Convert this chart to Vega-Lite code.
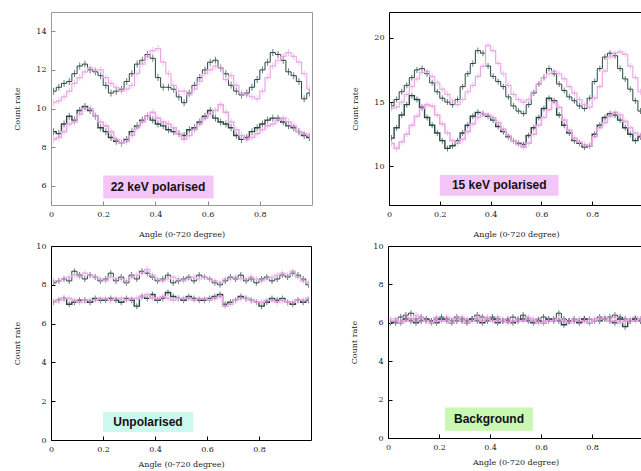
{
"$schema": "https://vega.github.io/schema/vega-lite/v6.json",
"background": "white",
"padding": {"left": 13, "top": 11, "right": 0, "bottom": 0},
"config": {
 "view": {"stroke": "#000", "strokeWidth": 1},
 "axis": {"labelFont": "DejaVu Serif", "labelFontSize": 8, "labelColor": "#222", "titleFont": "DejaVu Serif", "titleFontSize": 8, "titleFontWeight": "normal", "titleColor": "#222", "grid": false, "domain": false, "tickSize": -4, "tickColor": "#000", "labelPadding": 9, "labelOverlap": false, "labelFlush": false, "labelBound": false, "labelSeparation": 0},
 "axisY": {"titlePadding": 14},
 "axisX": {"titlePadding": 12}
},
"datasets": {
"p1": [
{"s":"d1","x":0.01,"y":10.9},{"s":"d1","x":0.03,"y":11.1},{"s":"d1","x":0.05,"y":11.3},{"s":"d1","x":0.07,"y":11.4},{"s":"d1","x":0.09,"y":11.8},{"s":"d1","x":0.11,"y":12.2},{"s":"d1","x":0.13,"y":12.3},{"s":"d1","x":0.15,"y":12.0},{"s":"d1","x":0.17,"y":11.9},{"s":"d1","x":0.19,"y":11.7},
{"s":"d1","x":0.21,"y":11.2},{"s":"d1","x":0.23,"y":10.8},{"s":"d1","x":0.25,"y":10.9},{"s":"d1","x":0.27,"y":11.0},{"s":"d1","x":0.29,"y":11.4},{"s":"d1","x":0.31,"y":11.8},{"s":"d1","x":0.33,"y":12.3},{"s":"d1","x":0.35,"y":12.5},{"s":"d1","x":0.37,"y":12.8},{"s":"d1","x":0.39,"y":12.6},
{"s":"d1","x":0.41,"y":11.6},{"s":"d1","x":0.43,"y":11.1},{"s":"d1","x":0.45,"y":11.1},{"s":"d1","x":0.47,"y":11.0},{"s":"d1","x":0.49,"y":10.6},{"s":"d1","x":0.51,"y":10.3},{"s":"d1","x":0.53,"y":10.8},{"s":"d1","x":0.55,"y":11.2},{"s":"d1","x":0.57,"y":11.6},{"s":"d1","x":0.59,"y":12.0},
{"s":"d1","x":0.61,"y":12.4},{"s":"d1","x":0.63,"y":12.5},{"s":"d1","x":0.65,"y":12.1},{"s":"d1","x":0.67,"y":11.8},{"s":"d1","x":0.69,"y":11.2},{"s":"d1","x":0.71,"y":10.9},{"s":"d1","x":0.73,"y":10.7},{"s":"d1","x":0.75,"y":10.8},{"s":"d1","x":0.77,"y":11.1},{"s":"d1","x":0.79,"y":11.5},
{"s":"d1","x":0.81,"y":12.0},{"s":"d1","x":0.83,"y":12.4},{"s":"d1","x":0.85,"y":12.9},{"s":"d1","x":0.87,"y":12.8},{"s":"d1","x":0.89,"y":12.5},{"s":"d1","x":0.91,"y":11.9},{"s":"d1","x":0.93,"y":11.7},{"s":"d1","x":0.95,"y":11.4},{"s":"d1","x":0.97,"y":10.5},{"s":"d1","x":0.99,"y":10.8},
{"s":"m1","x":0.01,"y":10.3},{"s":"m1","x":0.03,"y":10.4},{"s":"m1","x":0.05,"y":10.6},{"s":"m1","x":0.07,"y":10.9},{"s":"m1","x":0.09,"y":11.3},{"s":"m1","x":0.11,"y":11.6},{"s":"m1","x":0.13,"y":11.9},{"s":"m1","x":0.15,"y":12.1},{"s":"m1","x":0.17,"y":12.0},{"s":"m1","x":0.19,"y":12.0},
{"s":"m1","x":0.21,"y":11.6},{"s":"m1","x":0.23,"y":11.3},{"s":"m1","x":0.25,"y":11.1},{"s":"m1","x":0.27,"y":10.9},{"s":"m1","x":0.29,"y":11.0},{"s":"m1","x":0.31,"y":11.2},{"s":"m1","x":0.33,"y":11.8},{"s":"m1","x":0.35,"y":12.3},{"s":"m1","x":0.37,"y":12.7},{"s":"m1","x":0.39,"y":13.0},
{"s":"m1","x":0.41,"y":13.1},{"s":"m1","x":0.43,"y":12.4},{"s":"m1","x":0.45,"y":11.8},{"s":"m1","x":0.47,"y":11.2},{"s":"m1","x":0.49,"y":10.9},{"s":"m1","x":0.51,"y":10.9},{"s":"m1","x":0.53,"y":10.7},{"s":"m1","x":0.55,"y":11.0},{"s":"m1","x":0.57,"y":11.4},{"s":"m1","x":0.59,"y":11.8},
{"s":"m1","x":0.61,"y":12.0},{"s":"m1","x":0.63,"y":12.2},{"s":"m1","x":0.65,"y":12.1},{"s":"m1","x":0.67,"y":11.5},{"s":"m1","x":0.69,"y":11.7},{"s":"m1","x":0.71,"y":11.2},{"s":"m1","x":0.73,"y":10.8},{"s":"m1","x":0.75,"y":10.7},{"s":"m1","x":0.77,"y":10.6},{"s":"m1","x":0.79,"y":10.5},
{"s":"m1","x":0.81,"y":10.9},{"s":"m1","x":0.83,"y":11.6},{"s":"m1","x":0.85,"y":12.2},{"s":"m1","x":0.87,"y":12.5},{"s":"m1","x":0.89,"y":12.7},{"s":"m1","x":0.91,"y":12.9},{"s":"m1","x":0.93,"y":12.7},{"s":"m1","x":0.95,"y":12.4},{"s":"m1","x":0.97,"y":11.8},{"s":"m1","x":0.99,"y":11.0},
{"s":"d2","x":0.01,"y":8.8},{"s":"d2","x":0.03,"y":8.7},{"s":"d2","x":0.05,"y":9.2},{"s":"d2","x":0.07,"y":9.6},{"s":"d2","x":0.09,"y":9.4},{"s":"d2","x":0.11,"y":9.9},{"s":"d2","x":0.13,"y":10.1},{"s":"d2","x":0.15,"y":9.9},{"s":"d2","x":0.17,"y":9.6},{"s":"d2","x":0.19,"y":9.0},
{"s":"d2","x":0.21,"y":8.8},{"s":"d2","x":0.23,"y":8.5},{"s":"d2","x":0.25,"y":8.3},{"s":"d2","x":0.27,"y":8.2},{"s":"d2","x":0.29,"y":8.4},{"s":"d2","x":0.31,"y":8.8},{"s":"d2","x":0.33,"y":9.1},{"s":"d2","x":0.35,"y":9.4},{"s":"d2","x":0.37,"y":9.6},{"s":"d2","x":0.39,"y":9.4},
{"s":"d2","x":0.41,"y":9.2},{"s":"d2","x":0.43,"y":9.1},{"s":"d2","x":0.45,"y":8.9},{"s":"d2","x":0.47,"y":8.8},{"s":"d2","x":0.49,"y":8.7},{"s":"d2","x":0.51,"y":8.6},{"s":"d2","x":0.53,"y":8.9},{"s":"d2","x":0.55,"y":9.0},{"s":"d2","x":0.57,"y":9.3},{"s":"d2","x":0.59,"y":9.6},
{"s":"d2","x":0.61,"y":9.9},{"s":"d2","x":0.63,"y":9.5},{"s":"d2","x":0.65,"y":9.3},{"s":"d2","x":0.67,"y":9.2},{"s":"d2","x":0.69,"y":9.0},{"s":"d2","x":0.71,"y":8.6},{"s":"d2","x":0.73,"y":8.4},{"s":"d2","x":0.75,"y":8.5},{"s":"d2","x":0.77,"y":8.8},{"s":"d2","x":0.79,"y":9.0},
{"s":"d2","x":0.81,"y":9.2},{"s":"d2","x":0.83,"y":9.4},{"s":"d2","x":0.85,"y":9.5},{"s":"d2","x":0.87,"y":9.5},{"s":"d2","x":0.89,"y":9.3},{"s":"d2","x":0.91,"y":9.1},{"s":"d2","x":0.93,"y":9.0},{"s":"d2","x":0.95,"y":8.8},{"s":"d2","x":0.97,"y":8.6},{"s":"d2","x":0.99,"y":8.5},
{"s":"m2","x":0.01,"y":8.4},{"s":"m2","x":0.03,"y":8.5},{"s":"m2","x":0.05,"y":8.8},{"s":"m2","x":0.07,"y":9.2},{"s":"m2","x":0.09,"y":9.3},{"s":"m2","x":0.11,"y":9.7},{"s":"m2","x":0.13,"y":10.0},{"s":"m2","x":0.15,"y":10.0},{"s":"m2","x":0.17,"y":9.6},{"s":"m2","x":0.19,"y":9.3},
{"s":"m2","x":0.21,"y":9.1},{"s":"m2","x":0.23,"y":8.8},{"s":"m2","x":0.25,"y":8.4},{"s":"m2","x":0.27,"y":8.2},{"s":"m2","x":0.29,"y":8.3},{"s":"m2","x":0.31,"y":8.6},{"s":"m2","x":0.33,"y":9.0},{"s":"m2","x":0.35,"y":9.3},{"s":"m2","x":0.37,"y":9.6},{"s":"m2","x":0.39,"y":9.8},
{"s":"m2","x":0.41,"y":9.5},{"s":"m2","x":0.43,"y":9.3},{"s":"m2","x":0.45,"y":9.2},{"s":"m2","x":0.47,"y":9.0},{"s":"m2","x":0.49,"y":8.7},{"s":"m2","x":0.51,"y":8.4},{"s":"m2","x":0.53,"y":8.6},{"s":"m2","x":0.55,"y":8.9},{"s":"m2","x":0.57,"y":9.2},{"s":"m2","x":0.59,"y":9.5},
{"s":"m2","x":0.61,"y":9.7},{"s":"m2","x":0.63,"y":9.9},{"s":"m2","x":0.65,"y":10.2},{"s":"m2","x":0.67,"y":9.8},{"s":"m2","x":0.69,"y":9.3},{"s":"m2","x":0.71,"y":8.9},{"s":"m2","x":0.73,"y":8.6},{"s":"m2","x":0.75,"y":8.4},{"s":"m2","x":0.77,"y":8.5},{"s":"m2","x":0.79,"y":8.7},
{"s":"m2","x":0.81,"y":8.9},{"s":"m2","x":0.83,"y":9.1},{"s":"m2","x":0.85,"y":9.2},{"s":"m2","x":0.87,"y":9.4},{"s":"m2","x":0.89,"y":9.5},{"s":"m2","x":0.91,"y":9.3},{"s":"m2","x":0.93,"y":9.1},{"s":"m2","x":0.95,"y":8.8},{"s":"m2","x":0.97,"y":8.7},{"s":"m2","x":0.99,"y":8.6}
],
"p2": [
{"s":"d1","x":0.01,"y":14.7},{"s":"d1","x":0.03,"y":15.2},{"s":"d1","x":0.05,"y":15.8},{"s":"d1","x":0.07,"y":16.3},{"s":"d1","x":0.09,"y":16.9},{"s":"d1","x":0.11,"y":17.5},{"s":"d1","x":0.13,"y":17.6},{"s":"d1","x":0.15,"y":17.2},{"s":"d1","x":0.17,"y":16.5},{"s":"d1","x":0.19,"y":15.8},
{"s":"d1","x":0.21,"y":15.3},{"s":"d1","x":0.23,"y":15.0},{"s":"d1","x":0.25,"y":14.8},{"s":"d1","x":0.27,"y":15.2},{"s":"d1","x":0.29,"y":16.2},{"s":"d1","x":0.31,"y":17.2},{"s":"d1","x":0.33,"y":18.0},{"s":"d1","x":0.35,"y":19.0},{"s":"d1","x":0.37,"y":18.8},{"s":"d1","x":0.39,"y":17.8},
{"s":"d1","x":0.41,"y":17.0},{"s":"d1","x":0.43,"y":16.6},{"s":"d1","x":0.45,"y":16.2},{"s":"d1","x":0.47,"y":15.4},{"s":"d1","x":0.49,"y":14.7},{"s":"d1","x":0.51,"y":14.3},{"s":"d1","x":0.53,"y":14.1},{"s":"d1","x":0.55,"y":14.8},{"s":"d1","x":0.57,"y":15.7},{"s":"d1","x":0.59,"y":16.4},
{"s":"d1","x":0.61,"y":16.9},{"s":"d1","x":0.63,"y":17.6},{"s":"d1","x":0.65,"y":17.2},{"s":"d1","x":0.67,"y":16.4},{"s":"d1","x":0.69,"y":15.9},{"s":"d1","x":0.71,"y":15.4},{"s":"d1","x":0.73,"y":15.1},{"s":"d1","x":0.75,"y":14.7},{"s":"d1","x":0.77,"y":14.5},{"s":"d1","x":0.79,"y":15.3},
{"s":"d1","x":0.81,"y":16.6},{"s":"d1","x":0.83,"y":17.6},{"s":"d1","x":0.85,"y":18.5},{"s":"d1","x":0.87,"y":18.8},{"s":"d1","x":0.89,"y":18.6},{"s":"d1","x":0.91,"y":17.6},{"s":"d1","x":0.93,"y":16.8},{"s":"d1","x":0.95,"y":16.0},{"s":"d1","x":0.97,"y":15.1},{"s":"d1","x":0.99,"y":14.3},
{"s":"m1","x":0.01,"y":14.5},{"s":"m1","x":0.03,"y":14.6},{"s":"m1","x":0.05,"y":15.0},{"s":"m1","x":0.07,"y":15.6},{"s":"m1","x":0.09,"y":16.2},{"s":"m1","x":0.11,"y":16.8},{"s":"m1","x":0.13,"y":17.3},{"s":"m1","x":0.15,"y":17.4},{"s":"m1","x":0.17,"y":17.0},{"s":"m1","x":0.19,"y":16.5},
{"s":"m1","x":0.21,"y":16.0},{"s":"m1","x":0.23,"y":15.6},{"s":"m1","x":0.25,"y":15.1},{"s":"m1","x":0.27,"y":14.8},{"s":"m1","x":0.29,"y":15.2},{"s":"m1","x":0.31,"y":15.8},{"s":"m1","x":0.33,"y":16.3},{"s":"m1","x":0.35,"y":17.0},{"s":"m1","x":0.37,"y":17.8},{"s":"m1","x":0.39,"y":19.4},
{"s":"m1","x":0.41,"y":19.0},{"s":"m1","x":0.43,"y":18.0},{"s":"m1","x":0.45,"y":17.2},{"s":"m1","x":0.47,"y":16.3},{"s":"m1","x":0.49,"y":15.6},{"s":"m1","x":0.51,"y":15.2},{"s":"m1","x":0.53,"y":15.0},{"s":"m1","x":0.55,"y":15.2},{"s":"m1","x":0.57,"y":15.8},{"s":"m1","x":0.59,"y":16.4},
{"s":"m1","x":0.61,"y":16.9},{"s":"m1","x":0.63,"y":17.2},{"s":"m1","x":0.65,"y":17.4},{"s":"m1","x":0.67,"y":17.2},{"s":"m1","x":0.69,"y":16.8},{"s":"m1","x":0.71,"y":16.2},{"s":"m1","x":0.73,"y":15.7},{"s":"m1","x":0.75,"y":15.2},{"s":"m1","x":0.77,"y":14.8},{"s":"m1","x":0.79,"y":14.6},
{"s":"m1","x":0.81,"y":15.3},{"s":"m1","x":0.83,"y":16.2},{"s":"m1","x":0.85,"y":17.4},{"s":"m1","x":0.87,"y":18.5},{"s":"m1","x":0.89,"y":18.8},{"s":"m1","x":0.91,"y":18.9},{"s":"m1","x":0.93,"y":18.7},{"s":"m1","x":0.95,"y":17.8},{"s":"m1","x":0.97,"y":16.9},{"s":"m1","x":0.99,"y":15.8},
{"s":"d2","x":0.01,"y":12.2},{"s":"d2","x":0.03,"y":13.0},{"s":"d2","x":0.05,"y":14.0},{"s":"d2","x":0.07,"y":14.8},{"s":"d2","x":0.09,"y":15.5},{"s":"d2","x":0.11,"y":15.2},{"s":"d2","x":0.13,"y":14.6},{"s":"d2","x":0.15,"y":13.8},{"s":"d2","x":0.17,"y":13.2},{"s":"d2","x":0.19,"y":12.6},
{"s":"d2","x":0.21,"y":12.0},{"s":"d2","x":0.23,"y":11.4},{"s":"d2","x":0.25,"y":11.6},{"s":"d2","x":0.27,"y":12.0},{"s":"d2","x":0.29,"y":12.6},{"s":"d2","x":0.31,"y":13.2},{"s":"d2","x":0.33,"y":13.9},{"s":"d2","x":0.35,"y":14.2},{"s":"d2","x":0.37,"y":14.1},{"s":"d2","x":0.39,"y":13.9},
{"s":"d2","x":0.41,"y":13.6},{"s":"d2","x":0.43,"y":13.1},{"s":"d2","x":0.45,"y":12.7},{"s":"d2","x":0.47,"y":12.3},{"s":"d2","x":0.49,"y":12.0},{"s":"d2","x":0.51,"y":11.8},{"s":"d2","x":0.53,"y":11.7},{"s":"d2","x":0.55,"y":12.4},{"s":"d2","x":0.57,"y":13.0},{"s":"d2","x":0.59,"y":13.8},
{"s":"d2","x":0.61,"y":14.5},{"s":"d2","x":0.63,"y":15.3},{"s":"d2","x":0.65,"y":15.1},{"s":"d2","x":0.67,"y":14.0},{"s":"d2","x":0.69,"y":13.2},{"s":"d2","x":0.71,"y":12.6},{"s":"d2","x":0.73,"y":12.0},{"s":"d2","x":0.75,"y":11.8},{"s":"d2","x":0.77,"y":11.5},{"s":"d2","x":0.79,"y":11.6},
{"s":"d2","x":0.81,"y":12.5},{"s":"d2","x":0.83,"y":13.2},{"s":"d2","x":0.85,"y":13.8},{"s":"d2","x":0.87,"y":14.1},{"s":"d2","x":0.89,"y":14.0},{"s":"d2","x":0.91,"y":13.6},{"s":"d2","x":0.93,"y":13.0},{"s":"d2","x":0.95,"y":12.5},{"s":"d2","x":0.97,"y":12.0},{"s":"d2","x":0.99,"y":12.3},
{"s":"m2","x":0.01,"y":11.8},{"s":"m2","x":0.03,"y":11.4},{"s":"m2","x":0.05,"y":11.9},{"s":"m2","x":0.07,"y":12.5},{"s":"m2","x":0.09,"y":13.2},{"s":"m2","x":0.11,"y":13.9},{"s":"m2","x":0.13,"y":14.5},{"s":"m2","x":0.15,"y":14.8},{"s":"m2","x":0.17,"y":14.7},{"s":"m2","x":0.19,"y":14.0},
{"s":"m2","x":0.21,"y":13.3},{"s":"m2","x":0.23,"y":12.6},{"s":"m2","x":0.25,"y":12.0},{"s":"m2","x":0.27,"y":11.8},{"s":"m2","x":0.29,"y":12.1},{"s":"m2","x":0.31,"y":12.7},{"s":"m2","x":0.33,"y":13.3},{"s":"m2","x":0.35,"y":13.8},{"s":"m2","x":0.37,"y":14.1},{"s":"m2","x":0.39,"y":14.0},
{"s":"m2","x":0.41,"y":13.8},{"s":"m2","x":0.43,"y":13.4},{"s":"m2","x":0.45,"y":12.9},{"s":"m2","x":0.47,"y":12.4},{"s":"m2","x":0.49,"y":12.0},{"s":"m2","x":0.51,"y":11.7},{"s":"m2","x":0.53,"y":11.5},{"s":"m2","x":0.55,"y":11.8},{"s":"m2","x":0.57,"y":12.5},{"s":"m2","x":0.59,"y":13.2},
{"s":"m2","x":0.61,"y":13.8},{"s":"m2","x":0.63,"y":14.4},{"s":"m2","x":0.65,"y":15.0},{"s":"m2","x":0.67,"y":14.6},{"s":"m2","x":0.69,"y":13.6},{"s":"m2","x":0.71,"y":12.8},{"s":"m2","x":0.73,"y":12.2},{"s":"m2","x":0.75,"y":11.9},{"s":"m2","x":0.77,"y":11.7},{"s":"m2","x":0.79,"y":11.6},
{"s":"m2","x":0.81,"y":12.3},{"s":"m2","x":0.83,"y":13.0},{"s":"m2","x":0.85,"y":13.4},{"s":"m2","x":0.87,"y":13.9},{"s":"m2","x":0.89,"y":14.2},{"s":"m2","x":0.91,"y":14.0},{"s":"m2","x":0.93,"y":13.5},{"s":"m2","x":0.95,"y":13.0},{"s":"m2","x":0.97,"y":12.6},{"s":"m2","x":0.99,"y":12.4}
],
"p3": [
{"s":"d1","x":0.01,"y":8.1},{"s":"d1","x":0.03,"y":8.2},{"s":"d1","x":0.05,"y":8.3},{"s":"d1","x":0.07,"y":8.2},{"s":"d1","x":0.09,"y":8.7},{"s":"d1","x":0.11,"y":8.5},{"s":"d1","x":0.13,"y":8.3},{"s":"d1","x":0.15,"y":8.5},{"s":"d1","x":0.17,"y":8.4},{"s":"d1","x":0.19,"y":8.2},
{"s":"d1","x":0.21,"y":8.3},{"s":"d1","x":0.23,"y":8.6},{"s":"d1","x":0.25,"y":8.2},{"s":"d1","x":0.27,"y":8.4},{"s":"d1","x":0.29,"y":8.1},{"s":"d1","x":0.31,"y":8.5},{"s":"d1","x":0.33,"y":8.3},{"s":"d1","x":0.35,"y":8.7},{"s":"d1","x":0.37,"y":8.6},{"s":"d1","x":0.39,"y":8.4},
{"s":"d1","x":0.41,"y":8.2},{"s":"d1","x":0.43,"y":8.3},{"s":"d1","x":0.45,"y":8.5},{"s":"d1","x":0.47,"y":8.1},{"s":"d1","x":0.49,"y":8.2},{"s":"d1","x":0.51,"y":8.3},{"s":"d1","x":0.53,"y":8.4},{"s":"d1","x":0.55,"y":8.2},{"s":"d1","x":0.57,"y":8.5},{"s":"d1","x":0.59,"y":8.4},
{"s":"d1","x":0.61,"y":8.3},{"s":"d1","x":0.63,"y":8.1},{"s":"d1","x":0.65,"y":8.0},{"s":"d1","x":0.67,"y":8.2},{"s":"d1","x":0.69,"y":8.4},{"s":"d1","x":0.71,"y":8.3},{"s":"d1","x":0.73,"y":8.5},{"s":"d1","x":0.75,"y":8.2},{"s":"d1","x":0.77,"y":8.3},{"s":"d1","x":0.79,"y":8.1},
{"s":"d1","x":0.81,"y":8.3},{"s":"d1","x":0.83,"y":8.4},{"s":"d1","x":0.85,"y":8.2},{"s":"d1","x":0.87,"y":8.3},{"s":"d1","x":0.89,"y":8.5},{"s":"d1","x":0.91,"y":8.4},{"s":"d1","x":0.93,"y":8.6},{"s":"d1","x":0.95,"y":8.5},{"s":"d1","x":0.97,"y":8.3},{"s":"d1","x":0.99,"y":8.0},
{"s":"m1","x":0.01,"y":8.2},{"s":"m1","x":0.03,"y":8.2},{"s":"m1","x":0.05,"y":8.3},{"s":"m1","x":0.07,"y":8.4},{"s":"m1","x":0.09,"y":8.5},{"s":"m1","x":0.11,"y":8.4},{"s":"m1","x":0.13,"y":8.6},{"s":"m1","x":0.15,"y":8.5},{"s":"m1","x":0.17,"y":8.4},{"s":"m1","x":0.19,"y":8.3},
{"s":"m1","x":0.21,"y":8.2},{"s":"m1","x":0.23,"y":8.4},{"s":"m1","x":0.25,"y":8.3},{"s":"m1","x":0.27,"y":8.3},{"s":"m1","x":0.29,"y":8.2},{"s":"m1","x":0.31,"y":8.4},{"s":"m1","x":0.33,"y":8.5},{"s":"m1","x":0.35,"y":8.6},{"s":"m1","x":0.37,"y":8.8},{"s":"m1","x":0.39,"y":8.5},
{"s":"m1","x":0.41,"y":8.3},{"s":"m1","x":0.43,"y":8.2},{"s":"m1","x":0.45,"y":8.3},{"s":"m1","x":0.47,"y":8.4},{"s":"m1","x":0.49,"y":8.3},{"s":"m1","x":0.51,"y":8.2},{"s":"m1","x":0.53,"y":8.3},{"s":"m1","x":0.55,"y":8.4},{"s":"m1","x":0.57,"y":8.3},{"s":"m1","x":0.59,"y":8.4},
{"s":"m1","x":0.61,"y":8.3},{"s":"m1","x":0.63,"y":8.2},{"s":"m1","x":0.65,"y":8.1},{"s":"m1","x":0.67,"y":8.3},{"s":"m1","x":0.69,"y":8.3},{"s":"m1","x":0.71,"y":8.4},{"s":"m1","x":0.73,"y":8.3},{"s":"m1","x":0.75,"y":8.3},{"s":"m1","x":0.77,"y":8.4},{"s":"m1","x":0.79,"y":8.3},
{"s":"m1","x":0.81,"y":8.2},{"s":"m1","x":0.83,"y":8.3},{"s":"m1","x":0.85,"y":8.4},{"s":"m1","x":0.87,"y":8.5},{"s":"m1","x":0.89,"y":8.6},{"s":"m1","x":0.91,"y":8.5},{"s":"m1","x":0.93,"y":8.7},{"s":"m1","x":0.95,"y":8.4},{"s":"m1","x":0.97,"y":8.2},{"s":"m1","x":0.99,"y":8.1},
{"s":"d2","x":0.01,"y":7.1},{"s":"d2","x":0.03,"y":7.2},{"s":"d2","x":0.05,"y":7.3},{"s":"d2","x":0.07,"y":7.0},{"s":"d2","x":0.09,"y":7.1},{"s":"d2","x":0.11,"y":7.2},{"s":"d2","x":0.13,"y":7.2},{"s":"d2","x":0.15,"y":7.1},{"s":"d2","x":0.17,"y":7.3},{"s":"d2","x":0.19,"y":7.2},
{"s":"d2","x":0.21,"y":7.2},{"s":"d2","x":0.23,"y":7.3},{"s":"d2","x":0.25,"y":7.2},{"s":"d2","x":0.27,"y":7.1},{"s":"d2","x":0.29,"y":7.3},{"s":"d2","x":0.31,"y":7.2},{"s":"d2","x":0.33,"y":6.9},{"s":"d2","x":0.35,"y":7.4},{"s":"d2","x":0.37,"y":7.3},{"s":"d2","x":0.39,"y":7.5},
{"s":"d2","x":0.41,"y":7.2},{"s":"d2","x":0.43,"y":7.3},{"s":"d2","x":0.45,"y":7.6},{"s":"d2","x":0.47,"y":7.4},{"s":"d2","x":0.49,"y":7.3},{"s":"d2","x":0.51,"y":7.2},{"s":"d2","x":0.53,"y":7.4},{"s":"d2","x":0.55,"y":7.3},{"s":"d2","x":0.57,"y":7.2},{"s":"d2","x":0.59,"y":7.2},
{"s":"d2","x":0.61,"y":7.3},{"s":"d2","x":0.63,"y":7.4},{"s":"d2","x":0.65,"y":7.5},{"s":"d2","x":0.67,"y":7.0},{"s":"d2","x":0.69,"y":7.1},{"s":"d2","x":0.71,"y":7.2},{"s":"d2","x":0.73,"y":7.4},{"s":"d2","x":0.75,"y":7.3},{"s":"d2","x":0.77,"y":7.2},{"s":"d2","x":0.79,"y":7.1},
{"s":"d2","x":0.81,"y":6.9},{"s":"d2","x":0.83,"y":7.1},{"s":"d2","x":0.85,"y":7.3},{"s":"d2","x":0.87,"y":7.2},{"s":"d2","x":0.89,"y":7.3},{"s":"d2","x":0.91,"y":7.1},{"s":"d2","x":0.93,"y":7.0},{"s":"d2","x":0.95,"y":7.2},{"s":"d2","x":0.97,"y":7.1},{"s":"d2","x":0.99,"y":7.2},
{"s":"m2","x":0.01,"y":7.1},{"s":"m2","x":0.03,"y":7.2},{"s":"m2","x":0.05,"y":7.3},{"s":"m2","x":0.07,"y":7.3},{"s":"m2","x":0.09,"y":7.2},{"s":"m2","x":0.11,"y":7.1},{"s":"m2","x":0.13,"y":7.2},{"s":"m2","x":0.15,"y":7.2},{"s":"m2","x":0.17,"y":7.2},{"s":"m2","x":0.19,"y":7.3},
{"s":"m2","x":0.21,"y":7.3},{"s":"m2","x":0.23,"y":7.2},{"s":"m2","x":0.25,"y":7.3},{"s":"m2","x":0.27,"y":7.3},{"s":"m2","x":0.29,"y":7.2},{"s":"m2","x":0.31,"y":7.3},{"s":"m2","x":0.33,"y":7.3},{"s":"m2","x":0.35,"y":7.4},{"s":"m2","x":0.37,"y":7.5},{"s":"m2","x":0.39,"y":7.3},
{"s":"m2","x":0.41,"y":7.3},{"s":"m2","x":0.43,"y":7.4},{"s":"m2","x":0.45,"y":7.3},{"s":"m2","x":0.47,"y":7.2},{"s":"m2","x":0.49,"y":7.3},{"s":"m2","x":0.51,"y":7.3},{"s":"m2","x":0.53,"y":7.3},{"s":"m2","x":0.55,"y":7.2},{"s":"m2","x":0.57,"y":7.3},{"s":"m2","x":0.59,"y":7.3},
{"s":"m2","x":0.61,"y":7.2},{"s":"m2","x":0.63,"y":7.3},{"s":"m2","x":0.65,"y":7.4},{"s":"m2","x":0.67,"y":6.9},{"s":"m2","x":0.69,"y":7.0},{"s":"m2","x":0.71,"y":7.2},{"s":"m2","x":0.73,"y":7.3},{"s":"m2","x":0.75,"y":7.3},{"s":"m2","x":0.77,"y":7.2},{"s":"m2","x":0.79,"y":7.1},
{"s":"m2","x":0.81,"y":7.1},{"s":"m2","x":0.83,"y":7.2},{"s":"m2","x":0.85,"y":7.2},{"s":"m2","x":0.87,"y":7.1},{"s":"m2","x":0.89,"y":7.2},{"s":"m2","x":0.91,"y":7.1},{"s":"m2","x":0.93,"y":7.1},{"s":"m2","x":0.95,"y":7.2},{"s":"m2","x":0.97,"y":7.2},{"s":"m2","x":0.99,"y":7.3}
],
"p4": [
{"s":"d1","x":0.01,"y":6.1},{"s":"d1","x":0.03,"y":6.0},{"s":"d1","x":0.05,"y":6.3},{"s":"d1","x":0.07,"y":6.4},{"s":"d1","x":0.09,"y":6.5},{"s":"d1","x":0.11,"y":6.2},{"s":"d1","x":0.13,"y":6.3},{"s":"d1","x":0.15,"y":6.1},{"s":"d1","x":0.17,"y":6.0},{"s":"d1","x":0.19,"y":6.2},
{"s":"d1","x":0.21,"y":6.3},{"s":"d1","x":0.23,"y":6.2},{"s":"d1","x":0.25,"y":6.1},{"s":"d1","x":0.27,"y":6.3},{"s":"d1","x":0.29,"y":6.2},{"s":"d1","x":0.31,"y":6.1},{"s":"d1","x":0.33,"y":6.2},{"s":"d1","x":0.35,"y":6.4},{"s":"d1","x":0.37,"y":6.3},{"s":"d1","x":0.39,"y":6.2},
{"s":"d1","x":0.41,"y":6.3},{"s":"d1","x":0.43,"y":6.2},{"s":"d1","x":0.45,"y":6.1},{"s":"d1","x":0.47,"y":6.2},{"s":"d1","x":0.49,"y":6.3},{"s":"d1","x":0.51,"y":6.2},{"s":"d1","x":0.53,"y":6.4},{"s":"d1","x":0.55,"y":6.2},{"s":"d1","x":0.57,"y":6.1},{"s":"d1","x":0.59,"y":6.2},
{"s":"d1","x":0.61,"y":6.3},{"s":"d1","x":0.63,"y":6.1},{"s":"d1","x":0.65,"y":6.2},{"s":"d1","x":0.67,"y":6.5},{"s":"d1","x":0.69,"y":6.2},{"s":"d1","x":0.71,"y":6.1},{"s":"d1","x":0.73,"y":6.2},{"s":"d1","x":0.75,"y":6.1},{"s":"d1","x":0.77,"y":6.2},{"s":"d1","x":0.79,"y":6.2},
{"s":"d1","x":0.81,"y":6.1},{"s":"d1","x":0.83,"y":6.3},{"s":"d1","x":0.85,"y":6.2},{"s":"d1","x":0.87,"y":6.3},{"s":"d1","x":0.89,"y":6.4},{"s":"d1","x":0.91,"y":6.3},{"s":"d1","x":0.93,"y":6.2},{"s":"d1","x":0.95,"y":6.1},{"s":"d1","x":0.97,"y":6.2},{"s":"d1","x":0.99,"y":6.2},
{"s":"m1","x":0.01,"y":6.2},{"s":"m1","x":0.03,"y":6.2},{"s":"m1","x":0.05,"y":6.1},{"s":"m1","x":0.07,"y":6.3},{"s":"m1","x":0.09,"y":6.2},{"s":"m1","x":0.11,"y":6.4},{"s":"m1","x":0.13,"y":6.3},{"s":"m1","x":0.15,"y":6.2},{"s":"m1","x":0.17,"y":6.1},{"s":"m1","x":0.19,"y":6.3},
{"s":"m1","x":0.21,"y":6.2},{"s":"m1","x":0.23,"y":6.3},{"s":"m1","x":0.25,"y":6.2},{"s":"m1","x":0.27,"y":6.2},{"s":"m1","x":0.29,"y":6.3},{"s":"m1","x":0.31,"y":6.2},{"s":"m1","x":0.33,"y":6.2},{"s":"m1","x":0.35,"y":6.3},{"s":"m1","x":0.37,"y":6.2},{"s":"m1","x":0.39,"y":6.3},
{"s":"m1","x":0.41,"y":6.2},{"s":"m1","x":0.43,"y":6.3},{"s":"m1","x":0.45,"y":6.2},{"s":"m1","x":0.47,"y":6.2},{"s":"m1","x":0.49,"y":6.1},{"s":"m1","x":0.51,"y":6.2},{"s":"m1","x":0.53,"y":6.2},{"s":"m1","x":0.55,"y":6.3},{"s":"m1","x":0.57,"y":6.2},{"s":"m1","x":0.59,"y":6.2},
{"s":"m1","x":0.61,"y":6.1},{"s":"m1","x":0.63,"y":6.2},{"s":"m1","x":0.65,"y":6.1},{"s":"m1","x":0.67,"y":6.2},{"s":"m1","x":0.69,"y":6.1},{"s":"m1","x":0.71,"y":6.1},{"s":"m1","x":0.73,"y":6.2},{"s":"m1","x":0.75,"y":6.2},{"s":"m1","x":0.77,"y":6.1},{"s":"m1","x":0.79,"y":6.2},
{"s":"m1","x":0.81,"y":6.2},{"s":"m1","x":0.83,"y":6.2},{"s":"m1","x":0.85,"y":6.3},{"s":"m1","x":0.87,"y":6.2},{"s":"m1","x":0.89,"y":6.3},{"s":"m1","x":0.91,"y":6.2},{"s":"m1","x":0.93,"y":6.1},{"s":"m1","x":0.95,"y":6.2},{"s":"m1","x":0.97,"y":6.3},{"s":"m1","x":0.99,"y":6.2},
{"s":"d2","x":0.01,"y":6.0},{"s":"d2","x":0.03,"y":6.1},{"s":"d2","x":0.05,"y":6.0},{"s":"d2","x":0.07,"y":6.2},{"s":"d2","x":0.09,"y":6.1},{"s":"d2","x":0.11,"y":6.0},{"s":"d2","x":0.13,"y":6.1},{"s":"d2","x":0.15,"y":6.2},{"s":"d2","x":0.17,"y":6.1},{"s":"d2","x":0.19,"y":6.0},
{"s":"d2","x":0.21,"y":6.2},{"s":"d2","x":0.23,"y":6.1},{"s":"d2","x":0.25,"y":6.0},{"s":"d2","x":0.27,"y":6.1},{"s":"d2","x":0.29,"y":6.1},{"s":"d2","x":0.31,"y":6.0},{"s":"d2","x":0.33,"y":6.2},{"s":"d2","x":0.35,"y":6.1},{"s":"d2","x":0.37,"y":6.0},{"s":"d2","x":0.39,"y":6.1},
{"s":"d2","x":0.41,"y":6.2},{"s":"d2","x":0.43,"y":6.0},{"s":"d2","x":0.45,"y":6.1},{"s":"d2","x":0.47,"y":6.1},{"s":"d2","x":0.49,"y":6.0},{"s":"d2","x":0.51,"y":6.1},{"s":"d2","x":0.53,"y":6.2},{"s":"d2","x":0.55,"y":6.1},{"s":"d2","x":0.57,"y":6.0},{"s":"d2","x":0.59,"y":6.1},
{"s":"d2","x":0.61,"y":6.0},{"s":"d2","x":0.63,"y":6.2},{"s":"d2","x":0.65,"y":6.1},{"s":"d2","x":0.67,"y":6.1},{"s":"d2","x":0.69,"y":5.9},{"s":"d2","x":0.71,"y":6.1},{"s":"d2","x":0.73,"y":6.1},{"s":"d2","x":0.75,"y":6.0},{"s":"d2","x":0.77,"y":6.2},{"s":"d2","x":0.79,"y":6.0},
{"s":"d2","x":0.81,"y":6.1},{"s":"d2","x":0.83,"y":6.1},{"s":"d2","x":0.85,"y":6.2},{"s":"d2","x":0.87,"y":6.1},{"s":"d2","x":0.89,"y":6.0},{"s":"d2","x":0.91,"y":6.2},{"s":"d2","x":0.93,"y":5.8},{"s":"d2","x":0.95,"y":6.1},{"s":"d2","x":0.97,"y":6.2},{"s":"d2","x":0.99,"y":6.1},
{"s":"m2","x":0.01,"y":6.1},{"s":"m2","x":0.03,"y":6.1},{"s":"m2","x":0.05,"y":6.0},{"s":"m2","x":0.07,"y":6.1},{"s":"m2","x":0.09,"y":6.2},{"s":"m2","x":0.11,"y":6.1},{"s":"m2","x":0.13,"y":6.2},{"s":"m2","x":0.15,"y":6.1},{"s":"m2","x":0.17,"y":6.0},{"s":"m2","x":0.19,"y":6.1},
{"s":"m2","x":0.21,"y":6.1},{"s":"m2","x":0.23,"y":6.1},{"s":"m2","x":0.25,"y":6.0},{"s":"m2","x":0.27,"y":6.2},{"s":"m2","x":0.29,"y":6.1},{"s":"m2","x":0.31,"y":6.0},{"s":"m2","x":0.33,"y":6.1},{"s":"m2","x":0.35,"y":6.2},{"s":"m2","x":0.37,"y":6.1},{"s":"m2","x":0.39,"y":6.2},
{"s":"m2","x":0.41,"y":6.1},{"s":"m2","x":0.43,"y":6.1},{"s":"m2","x":0.45,"y":6.1},{"s":"m2","x":0.47,"y":6.0},{"s":"m2","x":0.49,"y":6.1},{"s":"m2","x":0.51,"y":6.1},{"s":"m2","x":0.53,"y":6.1},{"s":"m2","x":0.55,"y":6.2},{"s":"m2","x":0.57,"y":6.1},{"s":"m2","x":0.59,"y":6.0},
{"s":"m2","x":0.61,"y":6.0},{"s":"m2","x":0.63,"y":6.1},{"s":"m2","x":0.65,"y":6.1},{"s":"m2","x":0.67,"y":6.2},{"s":"m2","x":0.69,"y":6.1},{"s":"m2","x":0.71,"y":6.0},{"s":"m2","x":0.73,"y":6.1},{"s":"m2","x":0.75,"y":6.1},{"s":"m2","x":0.77,"y":6.1},{"s":"m2","x":0.79,"y":6.0},
{"s":"m2","x":0.81,"y":6.1},{"s":"m2","x":0.83,"y":6.2},{"s":"m2","x":0.85,"y":6.2},{"s":"m2","x":0.87,"y":6.1},{"s":"m2","x":0.89,"y":6.1},{"s":"m2","x":0.91,"y":6.0},{"s":"m2","x":0.93,"y":6.1},{"s":"m2","x":0.95,"y":6.1},{"s":"m2","x":0.97,"y":6.1},{"s":"m2","x":0.99,"y":6.2}
]
},
"spacing": 2,
"vconcat": [
{"spacing": 37, "hconcat": [
 {"width": 261, "height": 193, "view": {"stroke": "#9a9a9a"},
  "layer": [
   {"data": {"name": "p1"}, "mark": {"type": "line", "interpolate": "step"},
    "encoding": {
     "x": {"field": "x", "type": "quantitative", "scale": {"domain": [0, 1], "nice": false}, "axis": {"values": [0, 0.2, 0.4, 0.6, 0.8], "format": "~g", "title": "Angle (0-720 degree)", "tickColor": "#888", "labelOverlap": false}},
     "y": {"field": "y", "type": "quantitative", "scale": {"domain": [5, 15], "nice": false, "zero": false}, "axis": {"values": [6, 8, 10, 12, 14], "title": "Count rate", "tickColor": "#888", "labelOverlap": false}},
     "detail": {"field": "s"},
     "strokeWidth": {"field": "s", "type": "nominal", "scale": {"domain": ["d1", "m1", "d2", "m2"], "range": [1, 1.6, 1, 1.6]}, "legend": null},
     "color": {"field": "s", "type": "nominal", "scale": {"domain": ["d1", "m1", "d2", "m2"], "range": ["#2a4646", "#eaa8e6", "#2a4646", "#eaa8e6"]}, "legend": null}}},
   {"data": {"name": "p1"}, "mark": {"type": "tick", "orient": "vertical", "size": 7, "thickness": 1},
    "encoding": {
     "x": {"field": "x", "type": "quantitative"},
     "y": {"field": "y", "type": "quantitative"},
     "color": {"field": "s", "type": "nominal", "legend": null}}},
   {"data": {"values": [{}]}, "mark": {"type": "rect", "color": "#f4c6f8"},
    "encoding": {"x": {"datum": 0.2}, "x2": {"datum": 0.623}, "y": {"datum": 5.34}, "y2": {"datum": 6.53}}},
   {"data": {"values": [{}]}, "mark": {"type": "text", "font": "Liberation Sans", "fontWeight": "bold", "fontSize": 12, "color": "#111"},
    "encoding": {"x": {"datum": 0.41}, "y": {"datum": 5.93}, "text": {"value": "22 keV polarised"}}}
  ]},
 {"width": 254, "height": 193,
  "layer": [
   {"data": {"name": "p2"}, "mark": {"type": "line", "interpolate": "step"},
    "encoding": {
     "x": {"field": "x", "type": "quantitative", "scale": {"domain": [0, 1], "nice": false}, "axis": {"values": [0, 0.2, 0.4, 0.6, 0.8], "format": "~g", "title": "Angle (0-720 degree)", "labelOverlap": false}},
     "y": {"field": "y", "type": "quantitative", "scale": {"domain": [7, 22], "nice": false, "zero": false}, "axis": {"values": [10, 15, 20], "title": "Count rate", "labelOverlap": false}},
     "detail": {"field": "s"},
     "strokeWidth": {"field": "s", "type": "nominal", "scale": {"domain": ["d1", "m1", "d2", "m2"], "range": [1, 1.5, 1, 1.5]}, "legend": null},
     "color": {"field": "s", "type": "nominal", "scale": {"domain": ["d1", "m1", "d2", "m2"], "range": ["#111111", "#d9a0d4", "#111111", "#d9a0d4"]}, "legend": null}}},
   {"data": {"name": "p2"}, "mark": {"type": "tick", "orient": "vertical", "size": 6, "thickness": 1},
    "encoding": {
     "x": {"field": "x", "type": "quantitative"},
     "y": {"field": "y", "type": "quantitative"},
     "color": {"field": "s", "type": "nominal", "legend": null}}},
   {"data": {"values": [{}]}, "mark": {"type": "rect", "color": "#f4c6f8"},
    "encoding": {"x": {"datum": 0.2}, "x2": {"datum": 0.668}, "y": {"datum": 7.72}, "y2": {"datum": 9.33}}},
   {"data": {"values": [{}]}, "mark": {"type": "text", "font": "Liberation Sans", "fontWeight": "bold", "fontSize": 12, "color": "#111"},
    "encoding": {"x": {"datum": 0.434}, "y": {"datum": 8.52}, "text": {"value": "15 keV polarised"}}}
  ]}
]},
{"spacing": 37, "hconcat": [
 {"width": 260, "height": 194,
  "layer": [
   {"data": {"name": "p3"}, "mark": {"type": "line", "interpolate": "step"},
    "encoding": {
     "x": {"field": "x", "type": "quantitative", "scale": {"domain": [0, 1], "nice": false}, "axis": {"values": [0, 0.2, 0.4, 0.6, 0.8], "format": "~g", "title": "Angle (0-720 degree)", "titlePadding": 7, "labelOverlap": false}},
     "y": {"field": "y", "type": "quantitative", "scale": {"domain": [0, 10], "nice": false, "zero": false}, "axis": {"values": [0, 2, 4, 6, 8, 10], "title": "Count rate", "labelOverlap": false, "tickCount": 6}},
     "detail": {"field": "s"},
     "strokeWidth": {"field": "s", "type": "nominal", "scale": {"domain": ["d1", "m1", "d2", "m2"], "range": [1, 1.5, 1, 1.5]}, "legend": null},
     "color": {"field": "s", "type": "nominal", "scale": {"domain": ["d1", "m1", "d2", "m2"], "range": ["#111111", "#e4a0dc", "#111111", "#e4a0dc"]}, "legend": null}}},
   {"data": {"name": "p3"}, "mark": {"type": "tick", "orient": "vertical", "size": 6, "thickness": 1},
    "encoding": {
     "x": {"field": "x", "type": "quantitative"},
     "y": {"field": "y", "type": "quantitative", "axis": {"values": [0, 2, 4, 6, 8, 10], "title": "Count rate", "labelOverlap": false, "tickCount": 6}},
     "color": {"field": "s", "type": "nominal", "legend": null}}},
   {"data": {"values": [{}]}, "mark": {"type": "rect", "color": "#ccf9ef"},
    "encoding": {"x": {"datum": 0.2}, "x2": {"datum": 0.547}, "y": {"datum": 0.41, "axis": {"values": [0, 2, 4, 6, 8, 10], "title": "Count rate", "labelOverlap": false, "tickCount": 6}}, "y2": {"datum": 1.44}}},
   {"data": {"values": [{}]}, "mark": {"type": "text", "font": "Liberation Sans", "fontWeight": "bold", "fontSize": 12, "color": "#111"},
    "encoding": {"x": {"datum": 0.373}, "y": {"datum": 0.92, "axis": {"values": [0, 2, 4, 6, 8, 10], "title": "Count rate", "labelOverlap": false, "tickCount": 6}}, "text": {"value": "Unpolarised"}}}
  ]},
 {"width": 255, "height": 192,
  "layer": [
   {"data": {"name": "p4"}, "mark": {"type": "line", "interpolate": "step"},
    "encoding": {
     "x": {"field": "x", "type": "quantitative", "scale": {"domain": [0, 1], "nice": false}, "axis": {"values": [0, 0.2, 0.4, 0.6, 0.8], "format": "~g", "title": "Angle (0-720 degree)", "titlePadding": 7, "labelOverlap": false}},
     "y": {"field": "y", "type": "quantitative", "scale": {"domain": [0, 10], "nice": false, "zero": false}, "axis": {"values": [0, 2, 4, 6, 8, 10], "title": "Count rate", "labelOverlap": false, "tickCount": 6}},
     "detail": {"field": "s"},
     "strokeWidth": {"field": "s", "type": "nominal", "scale": {"domain": ["d1", "m1", "d2", "m2"], "range": [1, 1.5, 1, 1.5]}, "legend": null},
     "color": {"field": "s", "type": "nominal", "scale": {"domain": ["d1", "m1", "d2", "m2"], "range": ["#111111", "#e4a0dc", "#111111", "#e4a0dc"]}, "legend": null}}},
   {"data": {"name": "p4"}, "mark": {"type": "tick", "orient": "vertical", "size": 6, "thickness": 1},
    "encoding": {
     "x": {"field": "x", "type": "quantitative"},
     "y": {"field": "y", "type": "quantitative", "axis": {"values": [0, 2, 4, 6, 8, 10], "title": "Count rate", "labelOverlap": false, "tickCount": 6}},
     "color": {"field": "s", "type": "nominal", "legend": null}}},
   {"data": {"values": [{}]}, "mark": {"type": "rect", "color": "#c8f8b2"},
    "encoding": {"x": {"datum": 0.224}, "x2": {"datum": 0.568}, "y": {"datum": 0.38, "axis": {"values": [0, 2, 4, 6, 8, 10], "title": "Count rate", "labelOverlap": false, "tickCount": 6}}, "y2": {"datum": 1.59}}},
   {"data": {"values": [{}]}, "mark": {"type": "text", "font": "Liberation Sans", "fontWeight": "bold", "fontSize": 12, "color": "#111"},
    "encoding": {"x": {"datum": 0.396}, "y": {"datum": 0.98, "axis": {"values": [0, 2, 4, 6, 8, 10], "title": "Count rate", "labelOverlap": false, "tickCount": 6}}, "text": {"value": "Background"}}}
  ]}
]}
]
}
